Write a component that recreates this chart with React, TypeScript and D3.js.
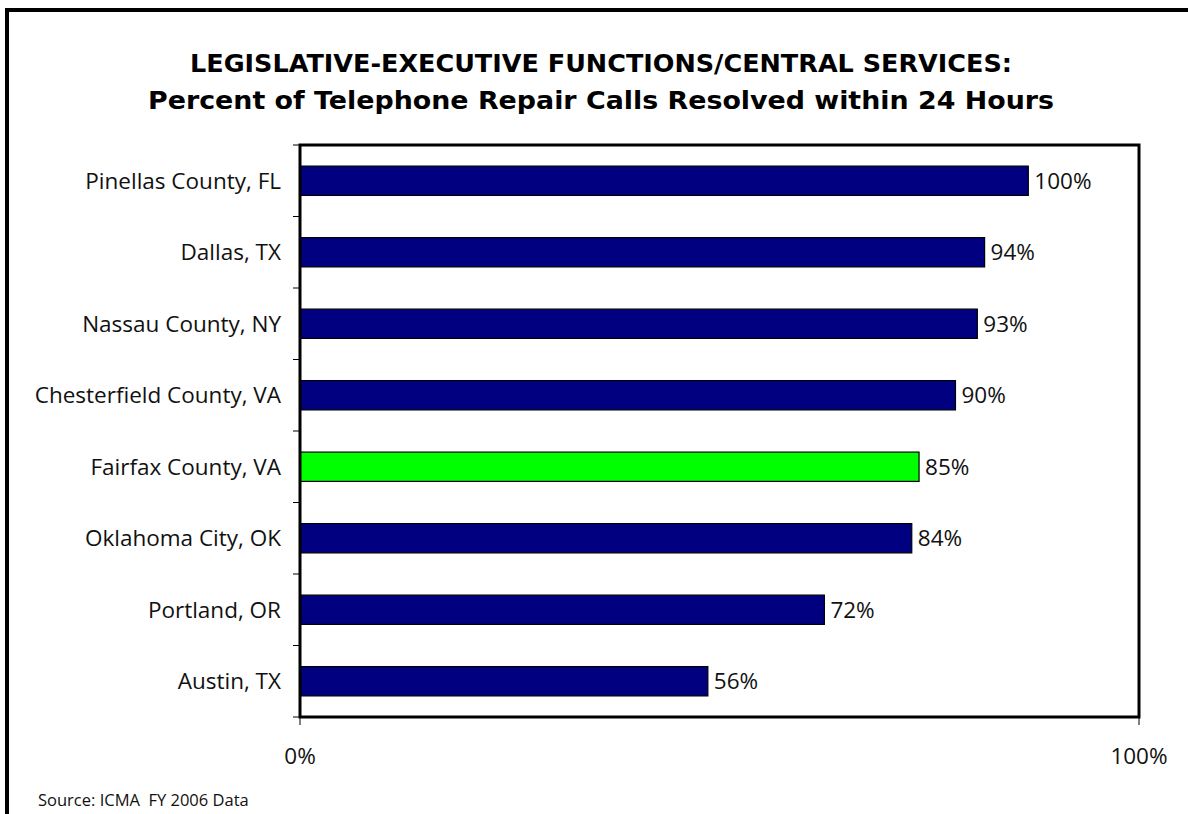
import React from "react";
import * as d3 from "d3";

const categories = [
  "Pinellas County, FL",
  "Dallas, TX",
  "Nassau County, NY",
  "Chesterfield County, VA",
  "Fairfax County, VA",
  "Oklahoma City, OK",
  "Portland, OR",
  "Austin, TX",
];
const values = [1.0, 0.94, 0.93, 0.9, 0.85, 0.84, 0.72, 0.56];
const highlight = ["Fairfax County, VA"];
const xTickLabels = ["0%", "100%"];
const titleLines = [
  "LEGISLATIVE-EXECUTIVE FUNCTIONS/CENTRAL SERVICES:",
  "Percent of Telephone Repair Calls Resolved within 24 Hours",
];
const titleWidths = [822, 906];
const sourceText = "Source: ICMA  FY 2006 Data";

const W = 1188;
const H = 814;
const plot = { left: 300, top: 145, right: 1139, bottom: 717 };
const font = "'Open Sans', 'DejaVu Sans', sans-serif";
const titleFont = "'DejaVu Sans', 'Open Sans', sans-serif";

export default function App() {
  const x = d3.scaleLinear().domain([0, 1.152]).range([plot.left, plot.right]);
  const y = d3
    .scaleBand<string>()
    .domain(categories)
    .range([plot.top, plot.bottom])
    .paddingInner(0.59)
    .paddingOuter(0.295);
  const boundaries = d3.range(categories.length + 1).map((i) => plot.top + i * (plot.bottom - plot.top) / categories.length);
  const fmt = d3.format(".0%");

  return (
    <svg
      width={W}
      height={H}
      style={{ position: "absolute", left: 0, top: 0, background: "#fff" }}
      fontFamily={font}
    >
      <rect x={0} y={0} width={W} height={H} fill="#fff" />
      {/* outer frame */}
      <line x1={5} y1={10} x2={W} y2={10} stroke="#000" strokeWidth={4} />
      <line x1={7} y1={8} x2={7} y2={H} stroke="#000" strokeWidth={4} />

      {/* title */}
      {titleLines.map((t, i) => (
        <text
          key={i}
          x={601}
          y={72 + i * 37}
          textAnchor="middle"
          fontSize={25}
          fontWeight="bold"
          fontFamily={titleFont}
          textLength={titleWidths[i]}
          lengthAdjust="spacingAndGlyphs"
          fill="#000"
        >
          {t}
        </text>
      ))}

      {/* bars */}
      {categories.map((c, i) => (
        <g key={c}>
          <rect
            x={x(0)}
            y={y(c)!}
            width={x(values[i]) - x(0)}
            height={y.bandwidth()}
            fill={highlight.includes(c) ? "#00FF00" : "#000080"}
            stroke="#000"
            strokeWidth={1.2}
          />
          <text
            x={x(values[i]) + 6}
            y={y(c)! + y.bandwidth() / 2}
            dy="0.36em"
            fontSize={22.5}
            fill="#111"
          >
            {fmt(values[i])}
          </text>
          <text
            x={plot.left - 19}
            y={y(c)! + y.bandwidth() / 2}
            dy="0.36em"
            textAnchor="end"
            fontSize={22.5}
            fill="#111"
          >
            {c}
          </text>
        </g>
      ))}

      {/* plot frame */}
      <rect
        x={plot.left}
        y={plot.top}
        width={plot.right - plot.left}
        height={plot.bottom - plot.top}
        fill="none"
        stroke="#000"
        strokeWidth={3}
      />
      {/* y ticks */}
      {boundaries.map((b, i) => (
        <line key={i} x1={plot.left - 7} x2={plot.left} y1={b} y2={b} stroke="#000" strokeWidth={1} />
      ))}
      {/* x ticks */}
      {[plot.left, plot.right].map((px, i) => (
        <g key={i}>
          <line x1={px} x2={px} y1={plot.bottom} y2={plot.bottom + 8} stroke="#000" strokeWidth={1} />
          <text x={px} y={764} textAnchor="middle" fontSize={22.5} fill="#111">
            {xTickLabels[i]}
          </text>
        </g>
      ))}

      <text x={38} y={806} fontSize={16.5} fill="#111" style={{ whiteSpace: "pre" }}>
        {sourceText}
      </text>
    </svg>
  );
}
